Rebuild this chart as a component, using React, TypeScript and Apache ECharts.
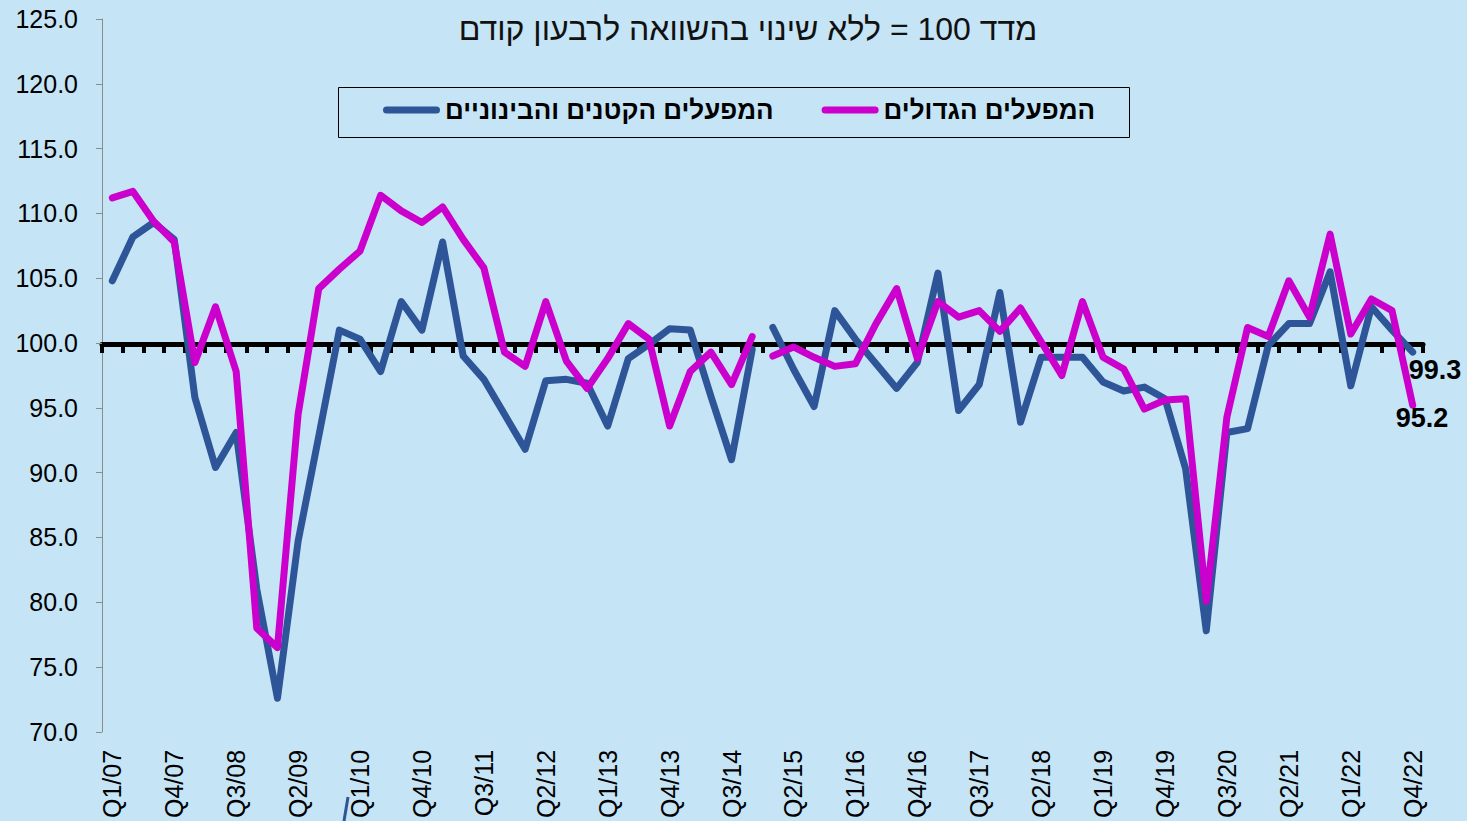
import React, { useEffect, useRef } from 'react';
import * as echarts from 'echarts';

const categories = [
  'Q1/07', 'Q2/07', 'Q3/07', 'Q4/07', 'Q1/08', 'Q2/08', 'Q3/08', 'Q4/08',
  'Q1/09', 'Q2/09', 'Q3/09', 'Q4/09', 'Q1/10', 'Q2/10', 'Q3/10', 'Q4/10',
  'Q1/11', 'Q2/11', 'Q3/11', 'Q4/11', 'Q1/12', 'Q2/12', 'Q3/12', 'Q4/12',
  'Q1/13', 'Q2/13', 'Q3/13', 'Q4/13', 'Q1/14', 'Q2/14', 'Q3/14', 'Q4/14',
  'Q1/15', 'Q2/15', 'Q3/15', 'Q4/15', 'Q1/16', 'Q2/16', 'Q3/16', 'Q4/16',
  'Q1/17', 'Q2/17', 'Q3/17', 'Q4/17', 'Q1/18', 'Q2/18', 'Q3/18', 'Q4/18',
  'Q1/19', 'Q2/19', 'Q3/19', 'Q4/19', 'Q1/20', 'Q2/20', 'Q3/20', 'Q4/20',
  'Q1/21', 'Q2/21', 'Q3/21', 'Q4/21', 'Q1/22', 'Q2/22', 'Q3/22', 'Q4/22',
];

// המפעלים הקטנים והבינוניים
const smallMedium = [
  104.8, 108.2, 109.3, 108.0, 95.8, 90.4, 93.1, 81.0,
  72.6, 84.7, 92.8, 101.0, 100.3, 97.8, 103.2, 101.0,
  107.8, 99.0, 97.2, 94.5, 91.8, 97.1, 97.2, 96.9,
  93.6, 98.8, 99.9, 101.1, 101.0, 95.9, 91.0, 99.5,
  101.2, 98.0, 95.1, 102.5, 100.3, 98.4, 96.5, 98.5,
  105.4, 94.8, 96.8, 103.9, 93.9, 98.9, 98.9, 98.9,
  97.0, 96.3, 96.6, 95.7, 90.3, 77.8, 93.1, 93.4,
  99.8, 101.5, 101.5, 105.5, 96.7, 102.8, 101.0, 99.3,
];

// המפעלים הגדולים
const large = [
  111.2, 111.7, 109.4, 107.8, 98.5, 102.8, 97.8, 78.0,
  76.5, 94.5, 104.2, 105.7, 107.1, 111.4, 110.2, 109.3,
  110.5, 108.0, 105.8, 99.3, 98.2, 103.2, 98.6, 96.5,
  98.8, 101.5, 100.3, 93.6, 97.8, 99.3, 96.8, 100.5,
  99.0, 99.7, 98.9, 98.2, 98.4, 101.5, 104.2, 98.8,
  103.2, 102.0, 102.5, 100.9, 102.7, 100.1, 97.5, 103.2,
  98.9, 98.0, 94.9, 95.6, 95.7, 80.1, 94.3, 101.2,
  100.5, 104.8, 102.0, 108.4, 100.7, 103.4, 102.5, 95.2,
];

const seriesNames = ['המפעלים הקטנים והבינוניים', 'המפעלים הגדולים'];
const titleText = 'מדד 100 = ללא שינוי בהשוואה לרבעון קודם';
const yMin = 70;
const yMax = 125;
const yInterval = 5;
const baseline = 100;
const breakIndex = 32; // the lines are broken between Q4/14 and Q1/15

const FONT = "Arial, 'Liberation Sans', 'DejaVu Sans', sans-serif";
const BLUE = '#2E5597';
const MAGENTA = '#CC00CC';
const BG = '#C5E4F5';

const GRID_LEFT = 102;
const GRID_RIGHT = 44;
const GRID_TOP = 19;
const GRID_BOTTOM = 87;
const H = 821;

export default function App() {
  const ref = useRef<HTMLDivElement>(null);

  useEffect(() => {
    if (!ref.current) return;
    const chart = echarts.init(ref.current, undefined, { renderer: 'svg' });
    const gridHeight = H - GRID_TOP - GRID_BOTTOM;
    const baseY = GRID_TOP + ((yMax - baseline) / (yMax - yMin)) * gridHeight;

    const part = (values: number[], p: number) =>
      values.map((v, i) => ((p === 0 ? i < breakIndex : i >= breakIndex) ? v : null));

    const fmt = (p: any) => {
      const v = Array.isArray(p.value) ? p.value[1] : p.value;
      return Number(v).toFixed(1);
    };

    const mk = (name: string, color: string, values: number[], p: number, endLabel?: any) => ({
      type: 'line',
      name,
      xAxisIndex: 0,
      yAxisIndex: 0,
      data: part(values, p),
      symbol: 'none',
      showSymbol: false,
      connectNulls: false,
      lineStyle: { color, width: 7, cap: 'round', join: 'round' },
      itemStyle: { color },
      endLabel: endLabel
        ? {
            show: true,
            formatter: fmt,
            fontSize: 27,
            fontWeight: 'bold',
            color: '#000',
            fontFamily: FONT,
            distance: 0,
            offset: endLabel,
          }
        : { show: false },
      emphasis: { disabled: true },
    });

    chart.setOption({
      animation: false,
      backgroundColor: BG,
      textStyle: { fontFamily: FONT },
      grid: [
        { left: GRID_LEFT, right: GRID_RIGHT, top: GRID_TOP, bottom: GRID_BOTTOM },
        { left: GRID_LEFT, right: GRID_RIGHT, top: baseY, height: 20 },
      ],
      xAxis: [
        {
          type: 'category',
          gridIndex: 0,
          data: categories,
          boundaryGap: true,
          axisLine: { show: false, onZero: false },
          axisTick: { show: false },
          axisLabel: {
            interval: 2,
            rotate: 90,
            margin: 18,
            fontSize: 25,
            color: '#000',
            fontFamily: FONT,
          },
          splitLine: { show: false },
        },
        {
          type: 'category',
          gridIndex: 1,
          data: categories,
          position: 'top',
          boundaryGap: true,
          axisLine: { show: true, onZero: false, lineStyle: { color: '#000', width: 5 } },
          axisTick: {
            show: true,
            inside: true,
            interval: 0,
            length: 9,
            lineStyle: { color: '#000', width: 4 },
          },
          axisLabel: { show: false },
          splitLine: { show: false },
        },
      ],
      yAxis: [
        {
          type: 'value',
          gridIndex: 0,
          min: yMin,
          max: yMax,
          interval: yInterval,
          axisLine: { show: true, lineStyle: { color: '#8c8c8c', width: 1 } },
          axisTick: { show: true, length: 6, lineStyle: { color: '#8c8c8c' } },
          axisLabel: {
            formatter: (v: number) => v.toFixed(1),
            fontSize: 25,
            color: '#000',
            margin: 24,
            fontFamily: FONT,
          },
          splitLine: { show: false },
        },
        { type: 'value', gridIndex: 1, show: false, min: 0, max: 1 },
      ],
      legend: {
        left: 383,
        top: 97,
        padding: 0,
        itemWidth: 57,
        itemHeight: 7,
        itemGap: 48,
        icon: 'path://M3.5,0H53.5A3.5,3.5,0,0,1,53.5,7H3.5A3.5,3.5,0,0,1,3.5,0Z',
        textStyle: { fontSize: 26, fontWeight: 'bold', color: '#000', fontFamily: FONT },
        data: [seriesNames[0], seriesNames[1]],
        selectedMode: false,
      },
      graphic: [
        {
          type: 'rect',
          shape: { x: 338.5, y: 87.5, width: 791, height: 50 },
          style: { fill: 'none', stroke: '#000', lineWidth: 1 },
          silent: true,
        },
        {
          type: 'text',
          x: 748,
          y: 29,
          style: {
            text: titleText,
            textAlign: 'center',
            textVerticalAlign: 'middle',
            fontSize: 32,
            fontFamily: FONT,
            fill: '#111',
          },
          silent: true,
        },
        {
          type: 'line',
          shape: { x1: 348, y1: 797, x2: 344, y2: 821 },
          style: { stroke: BLUE, lineWidth: 3 },
          silent: true,
        },
      ],
      series: [
        mk(seriesNames[0], BLUE, smallMedium, 0),
        mk(seriesNames[0], BLUE, smallMedium, 1, [-4, 18]),
        mk(seriesNames[1], MAGENTA, large, 0),
        mk(seriesNames[1], MAGENTA, large, 1, [-17, 13]),
      ],
    });

    return () => chart.dispose();
  }, []);

  return (
    <div
      ref={ref}
      style={{ position: 'absolute', left: 0, top: 0, width: 1467, height: H }}
    />
  );
}
